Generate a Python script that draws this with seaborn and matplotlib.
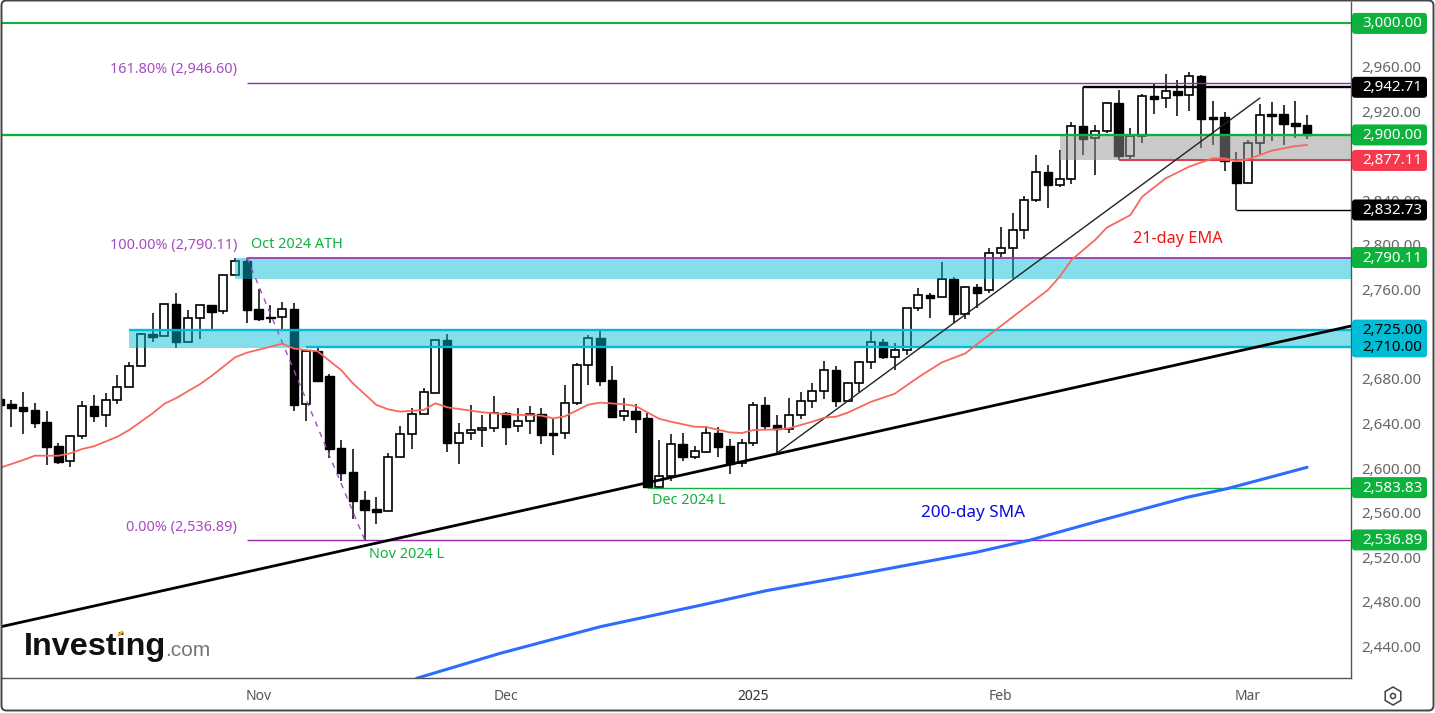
import pandas as pd
import matplotlib
matplotlib.use("Agg")
import matplotlib.pyplot as plt
from matplotlib.lines import Line2D
from matplotlib.patches import Circle, FancyBboxPatch, RegularPolygon
from matplotlib.transforms import IdentityTransform, ScaledTranslation
import seaborn as sns

# Daily candles
opens = [2662.9, 2658.8, 2656.1, 2653.4, 2642.6, 2621.1, 2607.3, 2629.8, 2656.9, 2648.6,
         2662.0, 2673.7, 2692.5, 2721.5, 2719.4, 2748.4, 2714.6, 2735.6, 2747.2, 2741.8,
         2774.1, 2787.3, 2743.6, 2736.5, 2736.5, 2743.6, 2658.4, 2706.0, 2683.8, 2619.3,
         2597.8, 2572.4, 2564.3, 2562.5, 2611.0, 2631.6, 2649.5, 2668.9, 2716.2, 2624.1,
         2632.5, 2635.2, 2637.0, 2650.4, 2638.8, 2643.2, 2649.5, 2632.5, 2632.5, 2659.4,
         2693.4, 2717.7, 2680.0, 2647.7, 2652.5, 2646.2, 2584.6, 2593.9, 2622.9, 2611.5,
         2616.0, 2632.4, 2621.1, 2605.5, 2623.5, 2657.5, 2639.6, 2636.0, 2648.6, 2661.1,
         2670.1, 2688.9, 2661.7, 2677.3, 2696.1, 2714.0, 2701.2, 2706.9, 2744.5, 2756.2,
         2754.4, 2770.5, 2739.7, 2763.4, 2761.0, 2793.8, 2798.3, 2814.5, 2841.4, 2866.5,
         2855.4, 2860.2, 2907.7, 2897.0, 2903.2, 2928.3, 2881.4, 2898.8, 2934.6, 2932.8,
         2939.1, 2935.5, 2952.9, 2915.8, 2915.8, 2876.0, 2857.2, 2892.5, 2918.8, 2918.8,
         2910.7, 2908.9]
highs = [2670.0, 2662.3, 2669.5, 2659.3, 2652.5, 2623.5, 2630.6, 2661.1, 2666.8, 2668.3,
         2684.7, 2696.4, 2722.1, 2740.0, 2748.1, 2758.0, 2743.0, 2747.2, 2747.2, 2774.1,
         2789.4, 2790.1, 2761.9, 2747.2, 2750.2, 2749.0, 2706.0, 2708.7, 2685.3, 2626.5,
         2618.1, 2580.5, 2575.4, 2614.5, 2639.0, 2654.9, 2673.1, 2715.9, 2721.5, 2641.7,
         2657.9, 2648.9, 2665.9, 2651.6, 2655.2, 2657.0, 2655.2, 2645.6, 2675.8, 2695.2,
         2720.6, 2724.2, 2692.9, 2664.2, 2658.5, 2651.0, 2626.5, 2631.8, 2632.7, 2621.1,
         2639.0, 2637.8, 2627.1, 2627.1, 2660.2, 2665.0, 2648.9, 2664.1, 2669.2, 2677.6,
         2697.3, 2692.5, 2677.3, 2697.3, 2724.2, 2717.0, 2713.1, 2745.1, 2762.8, 2758.6,
         2785.8, 2772.3, 2764.6, 2766.3, 2798.3, 2817.2, 2830.0, 2845.2, 2882.0, 2873.0,
         2886.5, 2911.6, 2942.7, 2908.9, 2929.5, 2940.3, 2906.2, 2936.4, 2946.3, 2954.6,
         2949.3, 2956.4, 2954.0, 2930.4, 2920.6, 2884.7, 2895.5, 2927.7, 2929.5, 2926.5,
         2930.4, 2917.9]
lows = [2645.0, 2638.4, 2631.8, 2637.5, 2604.3, 2605.2, 2602.6, 2627.7, 2642.6, 2638.4,
        2659.0, 2673.7, 2692.5, 2714.6, 2719.4, 2709.3, 2714.6, 2717.3, 2725.7, 2739.7,
        2774.1, 2731.7, 2733.5, 2731.1, 2725.7, 2652.8, 2643.8, 2679.7, 2610.6, 2589.7,
        2556.0, 2536.9, 2551.0, 2562.5, 2611.0, 2618.7, 2649.5, 2668.3, 2616.0, 2605.3,
        2626.5, 2620.5, 2634.0, 2622.3, 2634.0, 2631.9, 2623.2, 2613.3, 2627.7, 2658.2,
        2676.1, 2675.2, 2646.2, 2643.8, 2633.1, 2583.8, 2583.1, 2590.0, 2607.9, 2609.7,
        2615.1, 2611.5, 2596.3, 2602.6, 2621.4, 2636.6, 2614.5, 2633.0, 2645.6, 2655.5,
        2663.2, 2656.3, 2660.2, 2669.2, 2690.4, 2699.4, 2689.5, 2702.7, 2742.4, 2736.2,
        2754.4, 2731.7, 2735.3, 2745.1, 2758.0, 2790.9, 2771.4, 2806.7, 2840.2, 2834.8,
        2853.0, 2856.3, 2882.0, 2864.1, 2902.0, 2877.2, 2878.7, 2892.5, 2918.8, 2924.2,
        2917.0, 2921.8, 2888.3, 2891.0, 2867.7, 2832.7, 2857.2, 2882.6, 2894.9, 2891.0,
        2897.3, 2896.4]
closes = [2658.1, 2655.5, 2652.8, 2642.0, 2620.5, 2607.0, 2629.8, 2656.6, 2648.3, 2662.0,
          2673.7, 2692.5, 2721.2, 2719.1, 2748.1, 2714.6, 2735.6, 2747.2, 2741.5, 2774.1,
          2786.7, 2743.3, 2735.3, 2735.9, 2743.6, 2658.1, 2706.0, 2679.7, 2618.7, 2597.2,
          2572.1, 2564.0, 2562.2, 2611.0, 2631.6, 2649.5, 2669.2, 2715.9, 2624.1, 2632.5,
          2635.2, 2637.0, 2650.4, 2638.5, 2643.2, 2649.5, 2631.3, 2631.3, 2659.4, 2693.4,
          2717.7, 2679.7, 2647.4, 2652.2, 2645.6, 2584.6, 2593.9, 2622.6, 2611.5, 2616.3,
          2632.4, 2620.5, 2605.2, 2623.5, 2657.5, 2639.3, 2636.0, 2648.6, 2661.1, 2670.1,
          2688.9, 2661.7, 2677.3, 2696.1, 2714.0, 2701.2, 2706.9, 2744.5, 2756.2, 2754.1,
          2770.5, 2739.7, 2763.4, 2758.6, 2793.8, 2798.3, 2814.5, 2841.4, 2866.5, 2855.4,
          2860.2, 2907.7, 2896.7, 2903.2, 2928.3, 2881.4, 2898.8, 2934.6, 2932.5, 2939.1,
          2935.5, 2952.9, 2914.6, 2914.6, 2876.9, 2857.2, 2892.5, 2917.6, 2917.3, 2910.1,
          2908.3, 2900.2]

# 21-day EMA and 200-day SMA, sampled along the drawn lines
ema_days = [0, 2, 3, 5, 6, 7, 8, 10, 11, 13, 14, 15, 17, 18, 20, 21, 24, 25, 27, 29,
            30, 32, 33, 34, 36, 37, 38, 41, 43, 46, 47, 48, 50, 51, 53, 54, 56, 57, 59, 60,
            62, 63, 64, 66, 67, 69, 70, 71, 72, 74, 76, 78, 80, 82, 83, 89, 90, 91, 93, 94,
            96, 97, 99, 101, 103, 104, 105, 106, 107, 108, 110, 111]
ema_values = [2601.4, 2608.5, 2612.4, 2612.4, 2614.5, 2618.4, 2620.8, 2629.4, 2635.4, 2650.4,
              2659.0, 2664.1, 2676.4, 2683.9, 2700.6, 2704.8, 2712.8, 2708.4, 2706.0, 2689.2,
              2677.3, 2657.9, 2654.0, 2651.9, 2653.4, 2659.4, 2655.8, 2651.3, 2649.5, 2648.3,
              2645.9, 2647.7, 2658.2, 2660.0, 2658.5, 2657.0, 2645.5, 2642.9, 2638.4, 2638.1,
              2633.3, 2632.7, 2635.4, 2636.0, 2636.9, 2642.9, 2646.5, 2647.4, 2651.0, 2660.8,
              2668.0, 2682.7, 2696.1, 2704.2, 2712.5, 2761.0, 2772.9, 2787.9, 2805.8, 2816.9,
              2828.2, 2844.6, 2861.1, 2871.6, 2879.0, 2879.0, 2876.3, 2878.4, 2882.0, 2885.9,
              2890.0, 2891.0]
sma_days = [35.4, 42.5, 51, 59.5, 65.1, 73, 82.9, 87.5, 93.4, 100.8, 104.2, 111]
sma_values = [2412.8, 2435.2, 2459.1, 2478.3, 2491.4, 2506.3, 2525.8, 2536.8, 2554.1, 2575.1, 2582.8, 2602.0]

# Hand-drawn levels: price, first day, colour, width
level_prices = [3000.00, 2946.60, 2942.71, 2900.00, 2877.11, 2832.73, 2790.11, 2725.00, 2710.00, 2583.83, 2536.89]
level_starts = [0, 21, 92, 0, 95, 105, 21, 11, 26, 55, 21]
level_colors = ["#0cb23c", "#9c27b0", "#000000", "#0cb23c", "#d8404e", "#000000", "#9c27b0",
                "#00bcd4", "#00bcd4", "#0cb23c", "#9c27b0"]
level_widths = [1.5, 1.0, 1.7, 1.7, 1.5, 1.0, 1.2, 1.7, 1.7, 1.0, 1.0]

badge_prices = [3000.00, 2942.71, 2900.00, 2877.11, 2832.73, 2790.11, 2725.00, 2710.00, 2583.83, 2536.89]
badge_colors = ["#0cb23c", "#000000", "#0cb23c", "#f5394f", "#000000", "#0cb23c",
                "#00bcd4", "#00bcd4", "#0cb23c", "#0cb23c"]
badge_text_colors = ["white", "white", "white", "white", "white", "white", "black", "black", "white", "white"]

price_ticks = [2440, 2480, 2520, 2560, 2600, 2640, 2680, 2760, 2800, 2840, 2920, 2960]
month_days = [22, 43, 64, 85, 106]
month_labels = ["Nov", "Dec", "2025", "Feb", "Mar"]

W, H = 1435, 713
sns.set_style("white")
plt.rcParams["font.family"] = ["Noto Sans", "DejaVu Sans"]

candles = pd.DataFrame({"open": opens, "high": highs, "low": lows, "close": closes})
candles["day"] = candles.index
ema = pd.DataFrame({"day": ema_days, "value": ema_values})
sma = pd.DataFrame({"day": sma_days, "value": sma_values})

fig = plt.figure(figsize=(W / 100, H / 100), dpi=100)
ax = fig.add_axes([2 / W, 1 - 678 / H, 1349 / W, 676 / H])
x_min, x_max = 0.212, 114.73
ax.set_xlim(x_min, x_max)
ax.set_ylim(2413.1, 3019.2)

# Candles
up = candles[candles["close"] >= candles["open"]]
down = candles[candles["close"] < candles["open"]]
ax.vlines(candles["day"], candles["low"], candles["high"], color="black", lw=1.1, zorder=2)
ax.bar(up["day"], up["close"] - up["open"], bottom=up["open"], width=0.68,
       color="white", edgecolor="black", linewidth=1.2, zorder=3)
ax.bar(down["day"], down["open"] - down["close"], bottom=down["close"], width=0.72,
       color="black", edgecolor="black", linewidth=1.0, zorder=3)

# Shaded zones sit over the candles
ax.fill_between([11, x_max], 2709, 2725, color="#00bcd4", alpha=0.48, lw=0, zorder=4)
ax.fill_between([20, x_max], 2771, 2790.11, color="#00bcd4", alpha=0.48, lw=0, zorder=4)
ax.fill_between([90, x_max], 2877.11, 2900, color="#949494", alpha=0.5, lw=0, zorder=4)

for price, start, color, width in zip(level_prices, level_starts, level_colors, level_widths):
    ax.hlines(price, start, x_max, color=color, lw=width, zorder=5)

# Trend lines and the fib swing
ax.plot([0, x_max], [2458.8, 2728.7], color="black", lw=2.0, zorder=5)
ax.plot([66, 107], [2614.8, 2933.1], color="#222222", lw=1.0, zorder=5)
ax.plot([21, 31], [2790.11, 2536.89], color="#a64bc0", lw=1.0, ls=(0, (4, 4)), zorder=5)

sns.lineplot(data=ema, x="day", y="value", ax=ax, color="#f7685e", lw=1.3, estimator=None, zorder=6)
sns.lineplot(data=sma, x="day", y="value", ax=ax, color="#2e6bff", lw=2.2, estimator=None, zorder=6)

# Axes
ax.set_xlabel("")
ax.set_ylabel("")
for side in ["top", "left"]:
    ax.spines[side].set_visible(False)
for side in ["right", "bottom"]:
    ax.spines[side].set_color("#555555")
    ax.spines[side].set_linewidth(1.0)
ax.yaxis.tick_right()
ax.set_yticks(price_ticks)
ax.set_yticklabels([f"{p:,.2f}" for p in price_ticks], fontsize=10.9, color="#666666")
ax.set_xticks(month_days)
ax.set_xticklabels(month_labels, fontsize=10, color="#555555")
ax.get_xticklabels()[2].set_fontweight("bold")
ax.get_xticklabels()[2].set_color("#333333")
ax.tick_params(axis="y", length=0, pad=7.5)
ax.tick_params(axis="x", length=0, pad=8)
shift_up = ScaledTranslation(0, 1.5 / 100, fig.dpi_scale_trans)
for tick_label in ax.get_yticklabels():
    tick_label.set_transform(tick_label.get_transform() + shift_up)

# Price badges on the right axis
for price, color, text_color in zip(badge_prices, badge_colors, badge_text_colors):
    y_px = ax.transData.transform((x_min, price))[1]
    fig.add_artist(FancyBboxPatch((1353, y_px - 9.5), 73, 19, boxstyle="round,pad=1,rounding_size=3",
                                  fc=color, ec="none", transform=IdentityTransform(), zorder=8))
    fig.text(1362 / W, (y_px - 0.5) / H, f"{price:,.2f}", color=text_color, fontsize=10.9,
             fontweight="semibold", ha="left", va="center", zorder=9)

# Chart annotations, placed by figure position
def label(px, py, text, color, size=10.4, ha="left", weight="normal"):
    fig.text(px / W, 1 - py / H, text, color=color, fontsize=size, ha=ha, va="center", fontweight=weight)

label(237, 70, "161.80% (2,946.60)", "#a64bc0", ha="right")
label(237, 245, "100.00% (2,790.11)", "#a64bc0", ha="right")
label(237, 527, "0.00% (2,536.89)", "#a64bc0", ha="right")
label(251, 245, "Oct 2024 ATH", "#0db13e")
label(652, 501, "Dec 2024 L", "#0db13e")
label(369, 554, "Nov 2024 L", "#0db13e")
label(1133, 239, "21-day EMA", "#f01414", size=11.7)
label(921, 513, "200-day SMA", "#0a0ae0", size=12.3, weight="semibold")

# Logo
fig.text(24 / W, 1 - 647 / H, "Investing", family="Liberation Sans", fontsize=23.3, fontweight="bold",
         color="#111111", va="center", ha="left")
fig.text(165 / W, 1 - 650 / H, ".com", family="Liberation Sans", fontsize=15, color="#777777",
         va="center", ha="left")
fig.add_artist(Line2D([119 / W, 122 / W], [1 - 635 / H, 1 - 632 / H], color="#f5a623", lw=2, zorder=5))

# Outer frame and settings icon, in pixels
fig.add_artist(FancyBboxPatch((1.5, 2.5), W - 3, H - 3, boxstyle="round,pad=0,rounding_size=5",
                              fc="none", ec="#444444", lw=1.4, transform=IdentityTransform()))
fig.add_artist(RegularPolygon((1393, H - 696), 6, radius=9, fc="none", ec="#444444", lw=1.1,
                              transform=IdentityTransform()))
fig.add_artist(Circle((1393, H - 696), 2.5, fc="none", ec="#444444", lw=1.1, transform=IdentityTransform()))

fig.savefig("out.png", dpi=100)
